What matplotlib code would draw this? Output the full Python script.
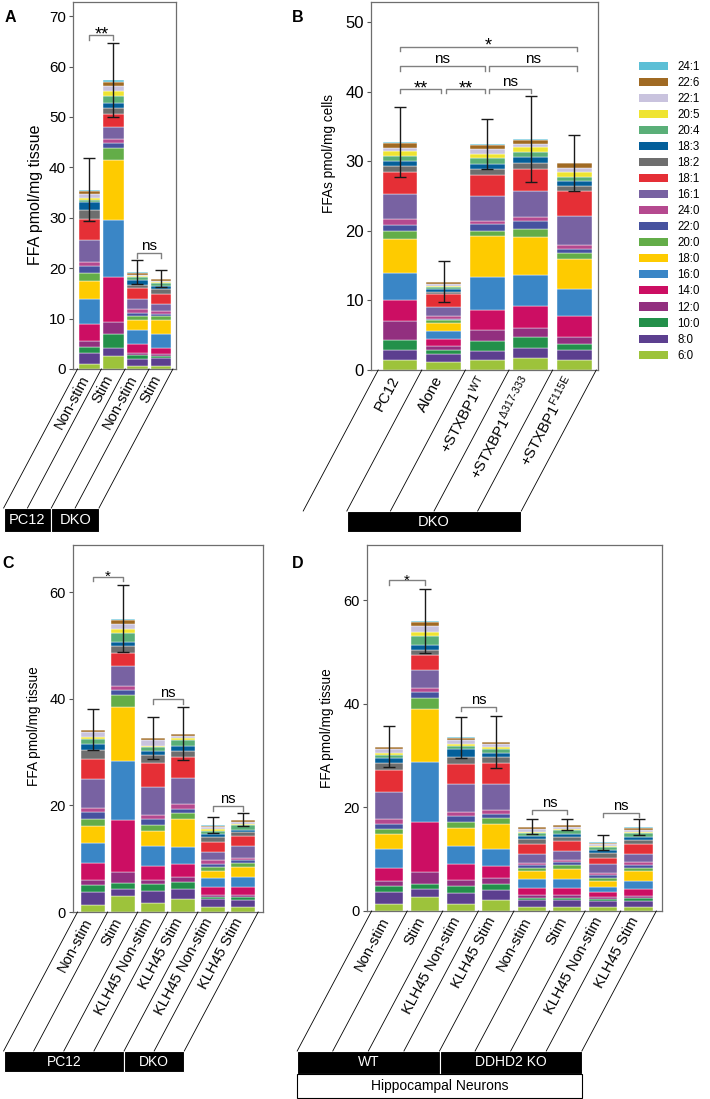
import numpy as np
import matplotlib.pyplot as plt
from matplotlib.patches import Patch, Rectangle
from matplotlib.lines import Line2D

plt.rcParams['font.family'] = ['Liberation Sans', 'DejaVu Sans']
plt.rcParams['mathtext.fontset'] = 'custom'
plt.rcParams['mathtext.rm'] = 'Liberation Sans'
plt.rcParams['mathtext.it'] = 'Liberation Sans:italic'

W, H = 710, 1099
SLANT = 62

# fatty acid species, bottom of stack -> top
lipids = ["6:0", "8:0", "10:0", "12:0", "14:0", "16:0", "18:0", "20:0", "22:0", "24:0",
          "16:1", "18:1", "18:2", "18:3", "20:4", "20:5", "22:1", "22:6", "24:1"]
lipid_colors = ["#9dc33b", "#5c3f8f", "#23904a", "#922f7f", "#cc0e63", "#3a86c6", "#fecb00",
                "#63ad48", "#46529f", "#b5498f", "#7862a2", "#e52f36", "#6e6e6e", "#045f9a",
                "#5aaf78", "#efe431", "#c9c3de", "#a06a23", "#5cbfd6"]

# panel A
a_labels = ["Non-stim", "Stim", "Non-stim", "Stim"]
a_segments = [
    [0.9, 2.3, 1.2, 1.1, 3.4, 5.0, 3.5, 1.6, 1.4, 0.8, 4.3, 4.3, 1.8, 1.5, 0.5, 0.3, 0.8, 0.6, 0.3],
    [2.6, 1.6, 2.7, 2.5, 8.9, 11.2, 12.0, 2.3, 1.0, 0.8, 2.5, 2.5, 1.2, 0.9, 1.5, 0.9, 1.1, 0.8, 0.3],
    [0.6, 1.3, 0.8, 0.5, 1.7, 2.8, 2.0, 0.8, 0.7, 0.7, 1.9, 2.2, 0.7, 0.9, 0.7, 0.2, 0.2, 0.3, 0.2],
    [0.6, 1.6, 0.4, 0.3, 1.3, 2.7, 2.8, 0.8, 0.5, 0.5, 1.3, 2.0, 1.0, 0.7, 0.5, 0.2, 0.3, 0.3, 0.1],
]
a_err = [6.2, 7.4, 2.4, 1.65]
a_sig = [(0, 1, 66.2, "**"), (2, 3, 23.0, "ns")]
a_groups = [("PC12", 0, 2), ("DKO", 2, 4)]

# panel B
b_labels = ["PC12", "Alone", r"+STXBP1$^{\mathrm{WT}}$", r"+STXBP1$^{\Delta\mathrm{317\text{-}333}}$",
            r"+STXBP1$^{\mathrm{F115E}}$"]
b_segments = [
    [1.5, 1.4, 1.4, 2.8, 3.0, 3.9, 4.8, 1.2, 0.9, 0.8, 3.6, 3.1, 0.9, 0.8, 0.7, 0.7, 0.4, 0.8, 0.1],
    [1.1, 1.2, 0.6, 0.5, 1.1, 1.1, 1.2, 0.4, 0.2, 0.3, 1.4, 1.8, 0.3, 0.4, 0.3, 0.2, 0.2, 0.3, 0.1],
    [1.4, 1.4, 1.4, 1.6, 2.8, 4.8, 5.8, 0.8, 1.0, 0.4, 3.6, 3.1, 0.8, 0.7, 0.9, 0.6, 0.6, 0.6, 0.2],
    [1.7, 1.4, 1.6, 1.4, 3.1, 4.5, 5.4, 1.2, 1.1, 0.6, 3.8, 3.1, 0.8, 0.9, 0.7, 0.7, 0.5, 0.6, 0.1],
    [1.5, 1.4, 0.9, 1.0, 3.0, 3.8, 4.3, 0.9, 0.6, 0.5, 4.2, 3.7, 0.7, 0.6, 0.7, 0.7, 0.6, 0.6, 0.1],
]
b_err = [5.0, 2.9, 3.6, 6.2, 4.0]
b_sig = [(0, 0.95, 40.4, "**"), (1.05, 1.95, 40.4, "**"), (2.05, 3, 40.4, "ns"),
         (0, 1.95, 43.7, "ns"), (2.05, 4.05, 43.7, "ns"), (0, 4.05, 46.5, "*")]
b_groups = [("DKO", 1, 5)]

# panel C
c_labels = ["Non-stim", "Stim", "KLH45 Non-stim", "KLH45 Stim", "KLH45 Non-stim", "KLH45 Stim"]
c_segments = [
    [1.4, 2.4, 1.3, 1.0, 3.15, 3.65, 3.3, 1.2, 1.3, 0.9, 5.3, 3.9, 1.6, 1.2, 0.8, 0.5, 0.9, 0.3, 0.1],
    [3.0, 1.4, 1.0, 2.2, 9.65, 11.15, 10.1, 2.2, 0.9, 0.9, 3.6, 2.5, 1.3, 0.7, 1.8, 0.7, 1.0, 0.8, 0.2],
    [1.6, 2.4, 1.2, 0.9, 2.6, 3.7, 2.85, 1.05, 1.1, 0.8, 5.2, 4.5, 1.5, 0.85, 0.65, 0.35, 0.95, 0.4, 0.15],
    [2.4, 1.9, 1.3, 0.9, 2.6, 3.15, 5.15, 1.1, 0.9, 0.8, 4.9, 4.0, 1.15, 0.95, 1.0, 0.4, 0.5, 0.3, 0.1],
    [1.0, 1.4, 0.5, 0.3, 1.4, 1.7, 1.4, 0.8, 0.6, 0.6, 1.6, 1.8, 0.95, 0.65, 0.6, 0.2, 0.4, 0.3, 0.1],
    [0.95, 1.3, 0.6, 0.35, 1.55, 1.75, 2.0, 0.75, 0.45, 0.35, 2.3, 1.85, 0.8, 0.45, 0.8, 0.3, 0.4, 0.3, 0.1],
]
c_err = [3.85, 6.2, 3.95, 5.0, 1.55, 1.15]
c_sig = [(0, 1, 62.9, "*"), (2, 3, 39.9, "ns"), (4, 5, 19.9, "ns")]
c_groups = [("PC12", 0, 4), ("DKO", 4, 6)]

# panel D
d_labels = ["Non-stim", "Stim", "KLH45 Non-stim", "KLH45 Stim",
            "Non-stim", "Stim", "KLH45 Non-stim", "KLH45 Stim"]
d_segments = [
    [1.35, 2.35, 1.1, 1.05, 2.55, 3.5, 2.9, 1.0, 1.1, 0.85, 5.25, 4.3, 1.2, 1.1, 0.5, 0.4, 0.7, 0.4, 0.1],
    [2.8, 1.4, 1.1, 2.3, 9.6, 11.5, 10.3, 2.2, 1.1, 0.8, 3.5, 2.8, 1.1, 0.8, 1.75, 0.85, 1.1, 0.85, 0.2],
    [1.35, 2.15, 1.4, 1.1, 3.1, 3.5, 3.35, 1.15, 1.2, 0.9, 5.3, 3.9, 1.4, 1.45, 0.65, 0.45, 0.65, 0.4, 0.2],
    [2.1, 1.95, 1.25, 1.0, 2.45, 3.15, 5.0, 1.0, 0.9, 0.8, 4.9, 4.0, 1.3, 0.8, 0.6, 0.4, 0.6, 0.4, 0.1],
    [0.7, 1.4, 0.4, 0.6, 1.3, 1.8, 1.6, 0.6, 0.55, 0.4, 1.75, 1.8, 0.95, 0.7, 0.6, 0.2, 0.45, 0.35, 0.15],
    [0.85, 1.25, 0.45, 0.55, 1.3, 1.8, 1.9, 0.75, 0.6, 0.45, 1.65, 1.9, 0.85, 0.5, 0.8, 0.2, 0.4, 0.4, 0.1],
    [0.7, 1.2, 0.4, 0.4, 1.0, 1.0, 1.0, 0.7, 0.5, 0.4, 1.7, 1.3, 0.85, 0.55, 0.6, 0.2, 0.35, 0.35, 0.1],
    [0.85, 1.15, 0.6, 0.3, 1.35, 1.6, 1.85, 0.7, 0.5, 0.6, 1.6, 1.8, 0.9, 0.5, 0.75, 0.3, 0.35, 0.4, 0.1],
]
d_err = [3.95, 6.2, 3.95, 5.0, 1.5, 1.0, 1.45, 1.5]
d_sig = [(0, 1, 63.9, "*"), (2, 3, 39.5, "ns"), (4, 5, 19.6, "ns"), (6, 7, 19.0, "ns")]
d_groups = [("WT", 0, 4), ("DDHD2 KO", 4, 8)]

fig = plt.figure(figsize=(W / 100, H / 100), dpi=100)


def add_axes(left, top, right, bottom):
    return fig.add_axes([left / W, 1 - bottom / H, (right - left) / W, (bottom - top) / H])


def stacked(ax, segs, err, width, cap=4):
    segs = np.array(segs)
    x = np.arange(len(segs))
    bottom = np.zeros(len(segs))
    for j, c in enumerate(lipid_colors):
        ax.bar(x, segs[:, j], width, bottom=bottom, color=c, edgecolor='white', linewidth=0.3)
        bottom += segs[:, j]
    ax.errorbar(x, bottom, yerr=err, fmt='none', ecolor='#1a1a1a', elinewidth=1,
                capsize=cap, capthick=1, zorder=5)


def style(ax, xlim, ylim, yticks, fs, ylabel, ylab_fs, ylab_xy):
    ax.set_xlim(xlim)
    ax.set_ylim(ylim)
    ax.set_xticks([])
    ax.set_yticks(yticks)
    ax.tick_params(axis='y', labelsize=fs, length=3, pad=2, color='#555555')
    for s in ax.spines.values():
        s.set_color('#6e6e6e')
        s.set_linewidth(0.9)
    ax.set_ylabel(ylabel, fontsize=ylab_fs)
    ax.yaxis.set_label_coords(*ylab_xy)


def brackets(ax, sig, fs_star, fs_ns):
    ppu = ax.transData.transform((0, 1))[1] - ax.transData.transform((0, 0))[1]
    leg = 4.5 / ppu
    for x1, x2, y, txt in sig:
        ax.plot([x1, x1, x2, x2], [y - leg, y, y, y - leg], color='#808080', lw=1, clip_on=False)
        star = '*' in txt
        ax.annotate(txt, xy=((x1 + x2) / 2, y), xytext=(0, -3 if star else 2),
                    textcoords='offset points', ha='center', va='baseline',
                    fontsize=fs_star if star else fs_ns)


def slant_table(ax, labels, fs, groups, row_h, group_fs, depth=139, sub_row=None):
    inv = fig.transFigure.inverted()
    tan = np.tan(np.radians(SLANT))
    run = depth / tan
    n = len(labels)
    edges = ax.transData.transform(np.column_stack([np.arange(n + 1) - 0.5, np.zeros(n + 1)]))
    for xe, ye in edges:
        pts = inv.transform([(xe, ye), (xe - run, ye - depth)])
        fig.add_artist(Line2D(pts[:, 0], pts[:, 1], color='black', lw=0.6))
    centers = ax.transData.transform(np.column_stack([np.arange(n), np.zeros(n)]))
    for (xc, yc), lab in zip(centers, labels):
        d = 7
        px, py = inv.transform((xc - d / tan, yc - d))
        fig.text(px, py, lab, rotation=SLANT, rotation_mode='anchor', ha='right',
                 va='center', fontsize=fs)
    base = edges[0][1] - depth
    for name, i0, i1 in groups:
        x0 = edges[i0][0] - run
        x1 = edges[i1][0] - run
        (fx0, fy0), (fx1, fy1) = inv.transform([(x0, base - row_h), (x1, base)])
        fig.add_artist(Rectangle((fx0, fy0), fx1 - fx0, fy1 - fy0, transform=fig.transFigure,
                                 facecolor='black', edgecolor='white', lw=0.8))
        fig.text((fx0 + fx1) / 2, (fy0 + fy1) / 2, name, color='white', ha='center',
                 va='center', fontsize=group_fs)
    if sub_row:
        x0 = edges[0][0] - run
        x1 = edges[-1][0] - run
        (fx0, fy0), (fx1, fy1) = inv.transform([(x0, base - row_h - 24), (x1, base - row_h)])
        fig.add_artist(Rectangle((fx0, fy0), fx1 - fx0, fy1 - fy0, transform=fig.transFigure,
                                 facecolor='white', edgecolor='black', lw=0.8))
        fig.text((fx0 + fx1) / 2, (fy0 + fy1) / 2, sub_row, ha='center', va='center',
                 fontsize=group_fs)


# A
axA = add_axes(73, 2, 176, 369)
stacked(axA, a_segments, a_err, 0.87)
style(axA, (-0.69, 3.63), (0, 72.8), np.arange(0, 71, 10), 11, "FFA pmol/mg tissue", 11.5,
      (-0.29, 0.474))
brackets(axA, a_sig, 13, 11)
slant_table(axA, a_labels, 10.5, a_groups, 24, 10.5)

# B
axB = add_axes(371, 2, 598, 370)
stacked(axB, b_segments, b_err, 0.8)
style(axB, (-0.665, 4.54), (0, 52.9), np.arange(0, 51, 10), 12, "FFAs pmol/mg cells", 9.8,
      (-0.154, 0.587))
brackets(axB, b_sig, 13, 11)
slant_table(axB, b_labels, 10.8, b_groups, 21, 10.5, depth=141)

# C
axC = add_axes(73, 545, 263, 912)
stacked(axC, c_segments, c_err, 0.8)
style(axC, (-0.65, 5.66), (0, 68.9), [0, 20, 40, 60], 10.5, "FFA pmol/mg tissue", 9.8,
      (-0.168, 0.507))
brackets(axC, c_sig, 11, 10.5)
slant_table(axC, c_labels, 10.5, c_groups, 21, 10)

# D
axD = add_axes(367, 545, 662, 911)
stacked(axD, d_segments, d_err, 0.79)
style(axD, (-0.63, 7.66), (0, 70.7), [0, 20, 40, 60], 10.5, "FFA pmol/mg tissue", 9.8,
      (-0.112, 0.5))
brackets(axD, d_sig, 11, 10.5)
slant_table(axD, d_labels, 10.5, d_groups, 23, 10, depth=140, sub_row="Hippocampal Neurons")

# panel letters
for letter, (px, py) in zip("ABCD", [(10, 17), (298, 17), (8, 563), (298, 563)]):
    fig.text(px / W, 1 - py / H, letter, fontsize=11.5, fontweight='bold', ha='center', va='center')

# legend
handles = [Patch(facecolor=c, label=l) for l, c in zip(lipids, lipid_colors)][::-1]
fig.legend(handles=handles, loc='upper left', bbox_to_anchor=(639 / W, 1 - 61 / H),
           frameon=False, fontsize=8.3, handlelength=2.5, handleheight=0.7,
           handletextpad=0.8, labelspacing=0.35, borderpad=0, borderaxespad=0)

fig.savefig("out.png", dpi=100)
